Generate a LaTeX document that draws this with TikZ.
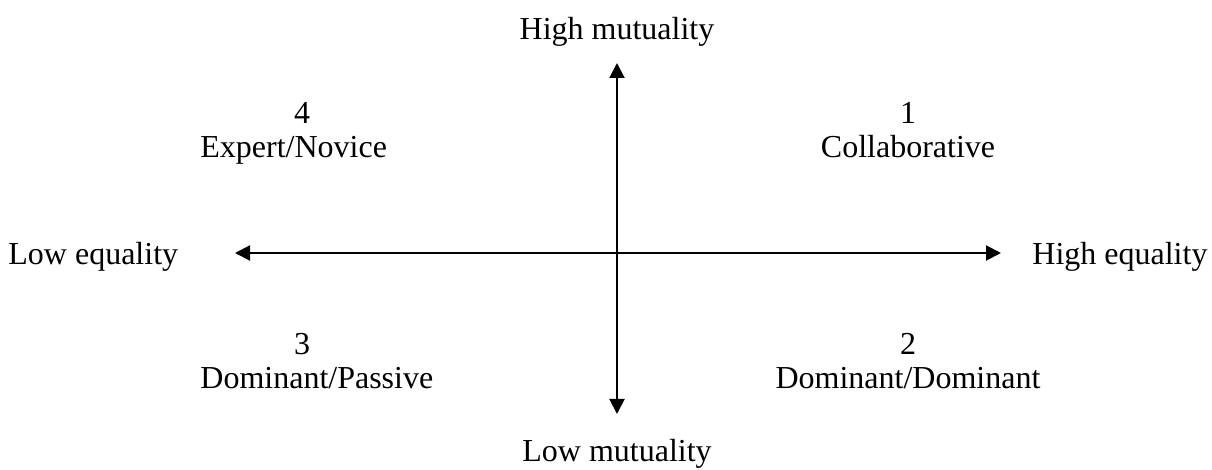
\documentclass[tikz,border=0pt]{standalone}
\usepackage{fontspec}
\setmainfont{Liberation Serif}
\usetikzlibrary{arrows.meta}

\begin{document}
\begin{tikzpicture}[x=0.5pt,y=-0.5pt,
        lbl/.style={inner sep=0pt,anchor=base,font=\fontsize{16}{19}\selectfont},
        axis/.style={line width=1pt,{Triangle[length=7.5pt,width=7.5pt]}-{Triangle[length=7.5pt,width=7.5pt]}}]
    \useasboundingbox (0,0) rectangle (1212,470);

    % ends of the axes
    \coordinate (west) at (235,253);
    \coordinate (east) at (1001,253);
    \coordinate (north) at (617,63);
    \coordinate (south) at (617,414);

    \draw[axis] (west)--(east);
    \draw[axis] (south)--(north);

    \node[lbl] (hmut) at (617,40) {High mutuality};
    \node[lbl] (lmut) at (617,462) {Low mutuality};
    \node[lbl,anchor=base west] (leq) at (8,265) {Low equality};
    \node[lbl,anchor=base west] (heq) at (1032,265) {High equality};

    % quadrants
    \node[lbl] (n4) at (302,124) {4};
    \node[lbl,anchor=base west] (q4) at (200,158) {Expert/Novice};
    \node[lbl] (n1) at (908,124) {1};
    \node[lbl] (q1) at (908,158) {Collaborative};
    \node[lbl] (n3) at (302,355) {3};
    \node[lbl,anchor=base west] (q3) at (200,389) {Dominant/Passive};
    \node[lbl] (n2) at (908,355) {2};
    \node[lbl] (q2) at (908,389) {Dominant/Dominant};
\end{tikzpicture}
\end{document}
